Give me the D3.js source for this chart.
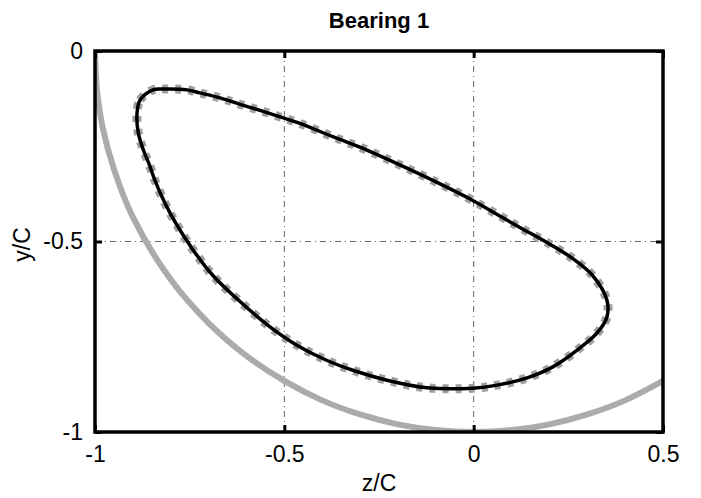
<!DOCTYPE html>
<html><head><meta charset="utf-8">
<script src="https://cdn.jsdelivr.net/npm/d3@7"></script>
<style>body{margin:0;background:#fff}svg{display:block}</style>
</head><body>
<script>
// Data
const title = "Bearing 1";
const xLabel = "z/C", yLabel = "y/C";
const xTicks = [-1, -0.5, 0, 0.5];
const yTicks = [0, -0.5, -1];
const xTickLabels = ["-1", "-0.5", "0", "0.5"];
const yTickLabels = ["0", "-0.5", "-1"];
const gridX = [-0.5, 0];
const gridY = [-0.5];
// clearance circle (z, y)
const circleZ = [-1, -0.995, -0.98, -0.95, -0.9, -0.8, -0.7, -0.6, -0.5, -0.4, -0.3, -0.2, -0.1, 0, 0.1, 0.2, 0.3, 0.4, 0.5];
const circleY = [0, -0.1, -0.2, -0.31, -0.436, -0.6, -0.714, -0.8, -0.866, -0.917, -0.954, -0.98, -0.995, -1, -0.995, -0.98, -0.954, -0.917, -0.866];
// shaft orbit (z, y), closed loop
const orbitZ = [-0.889, -0.881, -0.847, -0.820, -0.757, -0.723, -0.670, -0.617, -0.564, -0.511, -0.459, -0.372, -0.282, -0.195, -0.107, -0.018, 0.069, 0.122, 0.201, 0.262, 0.315, 0.352, 0.352, 0.326, 0.281, 0.209, 0.141, 0.062, -0.002, -0.123, -0.229, -0.319, -0.390, -0.467, -0.538, -0.620, -0.688, -0.741, -0.802, -0.842, -0.855, -0.873, -0.886];
const orbitY = [-0.163, -0.129, -0.102, -0.100, -0.102, -0.110, -0.123, -0.140, -0.156, -0.173, -0.190, -0.225, -0.260, -0.299, -0.340, -0.384, -0.433, -0.463, -0.507, -0.545, -0.590, -0.654, -0.698, -0.740, -0.779, -0.829, -0.858, -0.877, -0.885, -0.884, -0.864, -0.838, -0.811, -0.772, -0.724, -0.655, -0.590, -0.522, -0.425, -0.339, -0.302, -0.258, -0.213];

const W = 701, H = 498;
const L = 95, R = 663, T = 51, B = 432;
const svg = d3.select("body").append("svg").attr("width", W).attr("height", H);
const x = d3.scaleLinear().domain([-1, 0.5]).range([L, R]);
const y = d3.scaleLinear().domain([-1, 0]).range([B, T]);
const font = "'Liberation Sans', Arial, sans-serif";

svg.append("defs").append("clipPath").attr("id", "clip")
  .append("rect").attr("x", L).attr("y", T).attr("width", R - L).attr("height", B - T);

// grid
const grid = svg.append("g").attr("stroke", "#666").attr("stroke-width", 1).attr("stroke-dasharray", "6,4,1,4");
gridX.forEach(v => grid.append("line").attr("x1", x(v)).attr("x2", x(v)).attr("y1", T).attr("y2", B));
gridY.forEach(v => grid.append("line").attr("x1", L).attr("x2", R).attr("y1", y(v)).attr("y2", y(v)));

const plot = svg.append("g").attr("clip-path", "url(#clip)");
const circ = circleZ.map((z, i) => [z, circleY[i]]);
plot.append("path").datum(circ)
  .attr("d", d3.line().x(d => x(d[0])).y(d => y(d[1])).curve(d3.curveCatmullRom))
  .attr("fill", "none").attr("stroke", "#ababab").attr("stroke-width", 6);

const orb = orbitZ.map((z, i) => [z, orbitY[i]]);
const orbLine = d3.line().x(d => x(d[0])).y(d => y(d[1])).curve(d3.curveCatmullRomClosed.alpha(0.5));
plot.append("path").datum(orb).attr("d", orbLine)
  .attr("fill", "none").attr("stroke", "#a0a0a0").attr("stroke-width", 9).attr("stroke-dasharray", "6,7");
plot.append("path").datum(orb).attr("d", orbLine)
  .attr("fill", "none").attr("stroke", "#000").attr("stroke-width", 3.5);

// axes
const ax = svg.append("g");
ax.append("g").attr("transform", `translate(0,${B})`)
  .call(d3.axisBottom(x).tickValues(xTicks).tickSizeInner(-7).tickSizeOuter(0).tickFormat((d, i) => xTickLabels[i]).tickPadding(14));
ax.append("g").attr("transform", `translate(0,${T})`)
  .call(d3.axisTop(x).tickValues(xTicks).tickSizeInner(-7).tickSizeOuter(0).tickFormat(""));
ax.append("g").attr("transform", `translate(${L},0)`)
  .call(d3.axisLeft(y).tickValues(yTicks).tickSizeInner(-7).tickSizeOuter(0).tickFormat((d, i) => yTickLabels[i]).tickPadding(12));
ax.append("g").attr("transform", `translate(${R},0)`)
  .call(d3.axisRight(y).tickValues(yTicks).tickSizeInner(-7).tickSizeOuter(0).tickFormat(""));
ax.selectAll(".domain").remove();
ax.selectAll(".tick line").attr("stroke", "#000").attr("stroke-width", 3);
ax.selectAll(".tick text").attr("font-family", font).attr("font-size", 23).attr("fill", "#000");
svg.append("rect").attr("x", L).attr("y", T).attr("width", R - L).attr("height", B - T)
  .attr("fill", "none").attr("stroke", "#000").attr("stroke-width", 3.5);

svg.append("text").attr("x", (L + R) / 2).attr("y", 28).attr("text-anchor", "middle")
  .attr("font-family", font).attr("font-weight", "bold").attr("font-size", 22).text(title);
svg.append("text").attr("x", 379).attr("y", 491).attr("text-anchor", "middle")
  .attr("font-family", font).attr("font-size", 23).text(xLabel);
svg.append("text").attr("transform", `translate(30,${(T + B) / 2 + 3}) rotate(-90)`).attr("text-anchor", "middle")
  .attr("font-family", font).attr("font-size", 23).text(yLabel);
</script>
</body></html>
